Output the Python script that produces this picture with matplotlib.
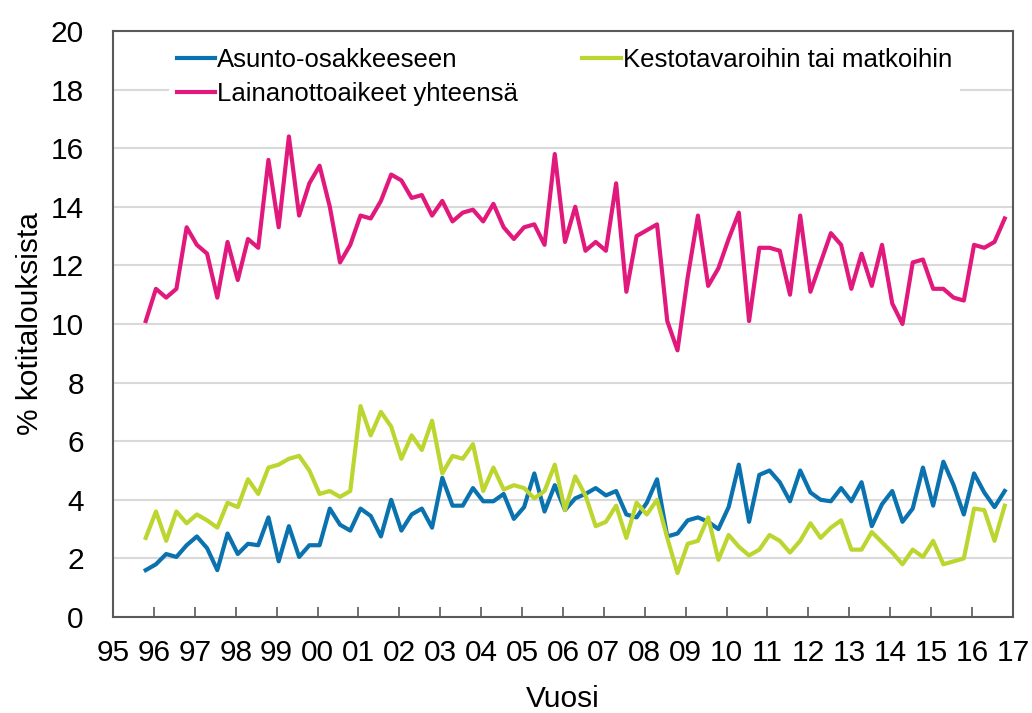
import numpy as np
import matplotlib
matplotlib.use("Agg")
import matplotlib.pyplot as plt

plt.rcParams['font.family'] = ['Liberation Sans', 'DejaVu Sans']

# quarterly data, 1995Q4 - 2016Q4
first_year = 1995.8
asunto = [1.6, 1.8, 2.15, 2.05, 2.45, 2.75, 2.35, 1.6, 2.85, 2.15, 2.5, 2.45,
          3.4, 1.9, 3.1, 2.05, 2.45, 2.45, 3.7, 3.15, 2.95, 3.7, 3.45, 2.75,
          4.0, 2.95, 3.5, 3.7, 3.05, 4.75, 3.8, 3.8, 4.4, 3.95, 3.95, 4.2,
          3.35, 3.75, 4.9, 3.6, 4.5, 3.65, 4.05, 4.2, 4.4, 4.15, 4.3, 3.5,
          3.4, 3.9, 4.7, 2.75, 2.85, 3.3, 3.4, 3.25, 3.0, 3.75, 5.2, 3.25,
          4.85, 5.0, 4.6, 3.95, 5.0, 4.25, 4.0, 3.95, 4.4, 3.95, 4.6, 3.1,
          3.85, 4.3, 3.25, 3.7, 5.1, 3.8, 5.3, 4.5, 3.5, 4.9, 4.25, 3.75, 4.3]
kesto = [2.7, 3.6, 2.6, 3.6, 3.2, 3.5, 3.3, 3.05, 3.9, 3.75, 4.7, 4.2,
         5.1, 5.2, 5.4, 5.5, 5.0, 4.2, 4.3, 4.1, 4.3, 7.2, 6.2, 7.0,
         6.5, 5.4, 6.2, 5.7, 6.7, 4.9, 5.5, 5.4, 5.9, 4.3, 5.1, 4.35,
         4.5, 4.4, 4.05, 4.3, 5.2, 3.65, 4.8, 4.15, 3.1, 3.25, 3.8, 2.7,
         3.9, 3.5, 4.0, 2.7, 1.5, 2.5, 2.6, 3.4, 1.95, 2.8, 2.4, 2.1,
         2.3, 2.8, 2.6, 2.2, 2.6, 3.2, 2.7, 3.05, 3.3, 2.3, 2.3, 2.9,
         2.55, 2.2, 1.8, 2.3, 2.05, 2.6, 1.8, 1.9, 2.0, 3.7, 3.65, 2.6, 3.8]
yhteensa = [10.1, 11.2, 10.9, 11.2, 13.3, 12.7, 12.4, 10.9, 12.8, 11.5, 12.9, 12.6,
            15.6, 13.3, 16.4, 13.7, 14.8, 15.4, 14.0, 12.1, 12.7, 13.7, 13.6, 14.2,
            15.1, 14.9, 14.3, 14.4, 13.7, 14.2, 13.5, 13.8, 13.9, 13.5, 14.1, 13.3,
            12.9, 13.3, 13.4, 12.7, 15.8, 12.8, 14.0, 12.5, 12.8, 12.5, 14.8, 11.1,
            13.0, 13.2, 13.4, 10.1, 9.1, 11.6, 13.7, 11.3, 11.9, 12.9, 13.8, 10.1,
            12.6, 12.6, 12.5, 11.0, 13.7, 11.1, 12.1, 13.1, 12.7, 11.2, 12.4, 11.3,
            12.7, 10.7, 10.0, 12.1, 12.2, 11.2, 11.2, 10.9, 10.8, 12.7, 12.6, 12.8, 13.6]
year_labels = ['95', '96', '97', '98', '99', '00', '01', '02', '03', '04', '05', '06',
               '07', '08', '09', '10', '11', '12', '13', '14', '15', '16', '17']

x = first_year + 0.25 * np.arange(len(asunto))

fig = plt.figure(figsize=(10.32, 7.13), dpi=100)
ax = fig.add_axes([0.1095, 0.1346, 0.872, 0.822])

ax.plot(x, asunto, color='#0a72ae', lw=3, label='Asunto-osakkeeseen')
ax.plot(x, yhteensa, color='#e2197c', lw=3, label='Lainanottoaikeet yhteensä')
ax.plot(x, kesto, color='#bdd52f', lw=3, label='Kestotavaroihin tai matkoihin')

ax.set_xlim(1995, 2017)
ax.set_ylim(0, 20)
ax.set_xticks(np.arange(1995, 2018))
ax.set_xticklabels(year_labels)
ax.set_yticks(np.arange(0, 21, 2))
ax.tick_params(axis='x', direction='in', length=7, width=1.2, color='#595959',
               labelsize=21.5, pad=16)
ax.tick_params(axis='y', length=0, labelsize=21.5, pad=21)
ax.grid(axis='y', color='#d9d9d9', lw=1.5)
ax.set_axisbelow(True)
for s in ax.spines.values():
    s.set_color('#595959')
    s.set_linewidth(1.5)

ax.set_ylabel('% kotitalouksista', fontsize=21.5, labelpad=5)
ax.set_xlabel('Vuosi', fontsize=21.5, labelpad=13)

leg = ax.legend(loc='upper left', bbox_to_anchor=(0.048, 1.006), ncol=2,
                fontsize=18.5, frameon=True, edgecolor='none', fancybox=False,
                handlelength=1.5, handletextpad=0.08, columnspacing=2.5,
                borderpad=0.3, labelspacing=0.4)
leg.get_frame().set_alpha(1)

fig.savefig('out.png', dpi=100)
